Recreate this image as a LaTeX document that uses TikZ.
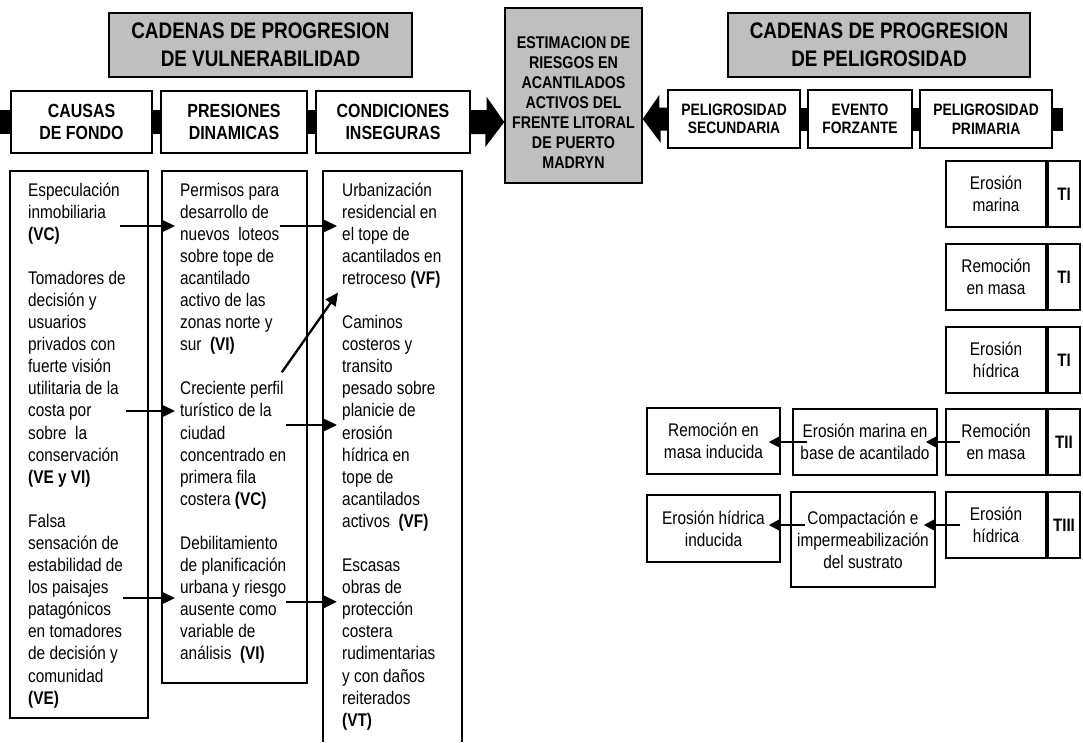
\documentclass[tikz,border=0pt]{standalone}
\usepackage{fontspec}
\setmainfont{Liberation Sans}[FakeStretch=0.84]
\usetikzlibrary{calc,arrows.meta}
\definecolor{grisclaro}{RGB}{191,191,191}

\begin{document}
\begin{tikzpicture}[x=1pt,y=1pt,yscale=-1,xscale=1,
    caja/.style={draw=black,line width=1.4pt,fill=white,inner sep=0pt,align=center},
    titulo/.style={caja,fill=grisclaro,font=\bfseries\fontsize{22.5}{27.5}\selectfont},
    cabecera/.style={caja,font=\bfseries\fontsize{19}{22}\selectfont},
    cabecerap/.style={caja,font=\bfseries\fontsize{16.5}{18.5}\selectfont},
    texto/.style={caja,font=\fontsize{18.3}{22}\selectfont},
    etiqueta/.style={caja,font=\bfseries\fontsize{18}{22}\selectfont},
    parrafo/.style={anchor=north west,inner sep=0pt,align=left,font=\fontsize{18.3}{22.08}\selectfont},
    barra/.style={line width=24pt},
    flecha/.style={line width=2.3pt,-{Triangle[length=13pt,width=12pt]},shorten >=5pt},
    flechita/.style={line width=2.4pt,-{Triangle[length=12pt,width=12pt]},shorten <=-15pt,shorten >=-12pt}]
    %set diagram size 1083 x 742
    \fill[white] (0,0) rectangle (1083,742);
    \useasboundingbox (0,0) rectangle (1083,742);

    %Shape: Rectangle (gray titles)
    \node[titulo,minimum width=303pt,minimum height=64pt] (vulnerab) at (260.5,45) {CADENAS DE PROGRESION\\DE VULNERABILIDAD};
    \node[titulo,minimum width=302pt,minimum height=64pt] (peligro) at (879,45) {CADENAS DE PROGRESION\\DE PELIGROSIDAD};
    \node[titulo,font=\bfseries\fontsize{17}{20}\selectfont,minimum width=137pt,minimum height=175pt] (estimacion) at (573.5,95.5) {\rule{0pt}{25pt}ESTIMACION DE\\RIESGOS EN\\ACANTILADOS\\ACTIVOS DEL\\FRENTE LITORAL\\DE PUERTO\\MADRYN};

    %Shape: Rectangle (vulnerability chain)
    \node[cabecera,minimum width=141pt,minimum height=62pt] (causas) at (81.5,122) {CAUSAS\\DE FONDO};
    \node[cabecera,minimum width=146pt,minimum height=62pt] (presiones) at (234,122) {PRESIONES\\DINAMICAS};
    \node[cabecera,minimum width=154pt,minimum height=62pt] (condiciones) at (393,122) {CONDICIONES\\INSEGURAS};

    %Shape: Rectangle (hazard chain)
    \node[cabecerap,minimum width=132pt,minimum height=58pt] (pelsec) at (734,119) {PELIGROSIDAD\\SECUNDARIA};
    \node[cabecerap,minimum width=104pt,minimum height=58pt] (evento) at (860,119) {EVENTO\\FORZANTE};
    \node[cabecerap,minimum width=132pt,minimum height=58pt] (pelprim) at (986,119) {PELIGROSIDAD\\PRIMARIA};

    %Straight Lines (black bars)
    \coordinate (inicio) at (0,122);
    \coordinate (final) at (1063,119);
    \draw[barra] (inicio) -- (causas.west);
    \draw[barra] (causas.east) -- (presiones.west);
    \draw[barra] (presiones.east) -- (condiciones.west);
    \draw[barra,line width=23pt] (pelsec.east) -- (evento.west);
    \draw[barra,line width=23pt] (evento.east) -- (pelprim.west);
    \draw[barra,line width=23pt] (pelprim.east) -- (final);

    %Right Arrow
    \fill (condiciones.east) ++(0,-12) -- ++(16,0) -- ++(0,-13) -- (condiciones.east -| estimacion.west) -- ++(-19,25) -- ++(0,-13) -- ++(-16,0) -- cycle;
    %Left Arrow
    \fill (pelsec.west) ++(0,-11.5) -- ++(-8,0) -- ++(0,-12.5) -- (pelsec.west -| estimacion.east) -- ++(18,24) -- ++(0,-12.5) -- ++(8,0) -- cycle;

    %Shape: Rectangle (columns)
    \draw[line width=1.4pt] (10,171) rectangle (148,718);
    \draw[line width=1.4pt] (162,171) rectangle (307,683);
    \draw[line width=1.4pt] (323,742) -- (323,171) -- (462,171) -- (462,742);

    % Text Node
    \node[parrafo] (especulacion) at (28,180.5) {\strut Especulación\\inmobiliaria\\\textbf{(VC)}};
    \node[parrafo] (tomadores) at (28,268.8) {\strut Tomadores de\\decisión y\\usuarios\\privados con\\fuerte visión\\utilitaria de la\\costa por\\sobre\ \ la\\conservación\\\textbf{(VE y VI)}};
    \node[parrafo] (falsa) at (28,511.8) {\strut Falsa\\sensación de\\estabilidad de\\los paisajes\\patagónicos\\en tomadores\\de decisión y\\comunidad\\\textbf{(VE)}};
    % Text Node
    \node[parrafo] (permisos) at (180,180.5) {\strut Permisos para\\desarrollo de\\nuevos\ \ loteos\\sobre tope de\\acantilado\\activo de las\\zonas norte y\\sur\ \ \textbf{(VI)}};
    \node[parrafo] (creciente) at (180,379.2) {\strut Creciente perfil\\turístico de la\\ciudad\\concentrado en\\primera fila\\costera \textbf{(VC)}};
    \node[parrafo] (debilitamiento) at (180,533.8) {\strut Debilitamiento\\de planificación\\urbana y riesgo\\ausente como\\variable de\\análisis\ \ \textbf{(VI)}};
    % Text Node
    \node[parrafo] (urbanizacion) at (342,180.5) {\strut Urbanización\\residencial en\\el tope de\\acantilados en\\retroceso \textbf{(VF)}};
    \node[parrafo] (caminos) at (342,313) {\strut Caminos\\costeros y\\transito\\pesado sobre\\planicie de\\erosión\\hídrica en\\tope de\\acantilados\\activos\ \ \textbf{(VF)}};
    \node[parrafo] (escasas) at (342,556) {\strut Escasas\\obras de\\protección\\costera\\rudimentarias\\y con daños\\reiterados\\\textbf{(VT)}};

    %Straight Lines (links between columns)
    \coordinate (a1) at ($(especulacion.north east)+(0,45.5)$);
    \draw[flecha] (a1) -- (a1 -| permisos.west);
    \coordinate (a2) at ($(permisos.north east)+(0,45.5)$);
    \draw[flecha] (a2) -- (a2 -| urbanizacion.west);
    \coordinate (a3) at ($(tomadores.north east)+(0,142.2)$);
    \draw[flecha] (a3) -- (a3 -| creciente.west);
    \draw[flecha,shorten >=0pt] ($(creciente.north east)+(-4.5,-7)$) -- ($(urbanizacion.south west)+(-4,4)$);
    \coordinate (a5) at ($(creciente.north east)+(0,45.8)$);
    \draw[flecha] (a5) -- (a5 -| caminos.west);
    \coordinate (a6) at ($(falsa.north east)+(0,86.2)$);
    \draw[flecha] (a6) -- (a6 -| debilitamiento.west);
    \coordinate (a7) at ($(debilitamiento.north east)+(0,68)$);
    \draw[flecha] (a7) -- (a7 -| escasas.west);

    %Shape: Rectangle (primary hazards)
    \node[texto,minimum width=100pt,minimum height=66pt] (marina1) at (996,194) {Erosión\\marina};
    \node[etiqueta,minimum width=32pt,minimum height=66pt] (ti1) at (1064,194) {TI};
    \node[texto,minimum width=100pt,minimum height=66pt] (remocion1) at (996,277) {Remoción\\en masa};
    \node[etiqueta,minimum width=32pt,minimum height=66pt] (ti2) at (1064,277) {TI};
    \node[texto,minimum width=100pt,minimum height=66pt] (hidrica1) at (996,360) {Erosión\\hídrica};
    \node[etiqueta,minimum width=32pt,minimum height=66pt] (ti3) at (1064,360) {TI};
    \node[texto,minimum width=100pt,minimum height=66pt] (remocion2) at (996,442) {Remoción\\en masa};
    \node[etiqueta,minimum width=32pt,minimum height=66pt] (tii) at (1064,442) {TII};
    \node[texto,minimum width=100pt,minimum height=66pt] (hidrica2) at (996,525) {Erosión\\hídrica};
    \node[etiqueta,minimum width=32pt,minimum height=66pt] (tiii) at (1064,525) {TIII};

    %Shape: Rectangle (secondary hazards)
    \node[texto,minimum width=144pt,minimum height=66pt] (erosionbase) at (865,442) {Erosión marina en\\base de acantilado};
    \node[texto,minimum width=133pt,minimum height=66pt] (inducida1) at (713.5,441) {Remoción en\\masa inducida};
    \node[texto,minimum width=144pt,minimum height=95pt] (compactacion) at (863,539.5) {Compactación e\\impermeabilización\\del sustrato};
    \node[texto,minimum width=133pt,minimum height=67pt] (inducida2) at (713.5,528.5) {Erosión hídrica\\inducida};

    %Straight Lines
    \draw[flechita] (remocion2.west) -- (erosionbase.east);
    \draw[flechita] (erosionbase.west) -- (erosionbase.west -| inducida1.east);
    \draw[flechita] (hidrica2.west) -- (hidrica2.west -| compactacion.east);
    \draw[flechita] (hidrica2.west -| compactacion.west) -- (hidrica2.west -| inducida2.east);
\end{tikzpicture}
\end{document}
